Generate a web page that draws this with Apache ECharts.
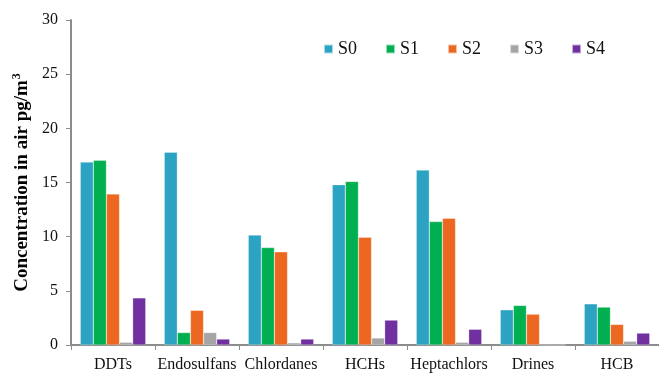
<!DOCTYPE html>
<html>
<head>
<meta charset="utf-8">
<script src="https://cdn.jsdelivr.net/npm/echarts@6/dist/echarts.min.js"></script>
<style>
  html, body { margin: 0; padding: 0; background: #fff; }
  #chart { width: 659px; height: 373px; }
</style>
</head>
<body>
<div id="chart"></div>
<script>
// Pesticide groups along the x axis
const categories = ['DDTs', 'Endosulfans', 'Chlordanes', 'HCHs', 'Heptachlors', 'Drines', 'HCB'];

// Air concentrations (pg/m3) per sampling site
const s0 = [16.9, 17.8, 10.15, 14.8, 16.15, 3.25, 3.8];
const s1 = [17.05, 1.15, 9.0, 15.1, 11.4, 3.65, 3.5];
const s2 = [13.95, 3.2, 8.6, 9.95, 11.7, 2.85, 1.9];
const s3 = [0.25, 1.15, 0.2, 0.65, 0.25, 0, 0.35];
const s4 = [4.35, 0.55, 0.55, 2.3, 1.45, 0, 1.1];

const seriesNames = ['S0', 'S1', 'S2', 'S3', 'S4'];
const seriesValues = [s0, s1, s2, s3, s4];
const colors = ['#2CA3C2', '#00B050', '#EC671F', '#A5A5A5', '#7030A0'];

const yTicks = { min: 0, max: 30, interval: 5 };

const serif = '"Liberation Serif", "DejaVu Serif", serif';

const chart = echarts.init(document.getElementById('chart'), null, { renderer: 'canvas' });

chart.setOption({
  animation: false,
  backgroundColor: '#ffffff',
  color: colors,
  grid: { left: 71, right: 0, top: 20, bottom: 28, containLabel: false },
  legend: {
    data: seriesNames,
    left: 318,
    top: 35,
    itemWidth: 9,
    itemHeight: 9,
    itemGap: 28,
    icon: 'rect',
    textStyle: { fontFamily: serif, fontSize: 18, color: '#111' }
  },
  xAxis: {
    type: 'category',
    data: categories,
    boundaryGap: true,
    axisLine: { lineStyle: { color: '#8c8c8c', width: 2 } },
    axisTick: { show: true, alignWithLabel: false, length: 5, lineStyle: { color: '#8c8c8c', width: 1 } },
    axisLabel: { fontFamily: serif, fontSize: 16, color: '#111', margin: 12, interval: 0 }
  },
  yAxis: {
    type: 'value',
    min: yTicks.min,
    max: yTicks.max,
    interval: yTicks.interval,
    name: '{n|Concentration in air pg/m}{sup|3}',
    nameLocation: 'middle',
    nameGap: 37,
    nameTextStyle: {
      rich: {
        n: { fontFamily: serif, fontSize: 19, fontWeight: 'bold', color: '#000' },
        sup: { fontFamily: serif, fontSize: 12, fontWeight: 'bold', color: '#000', verticalAlign: 'top', padding: [0, 0, 10, 1] }
      }
    },
    axisLine: { show: true, lineStyle: { color: '#8c8c8c', width: 2 } },
    axisTick: { show: true, length: 5, lineStyle: { color: '#8c8c8c', width: 1 } },
    axisLabel: { fontFamily: serif, fontSize: 16, color: '#111', margin: 13 },
    splitLine: { show: false }
  },
  series: seriesNames.map((name, i) => ({
    name: name,
    type: 'bar',
    data: seriesValues[i],
    barGap: '0%',
    barCategoryGap: '22%',
    itemStyle: { color: colors[i], borderColor: 'rgba(255,255,255,0.6)', borderWidth: 0.5 }
  }))
});
</script>
</body>
</html>
